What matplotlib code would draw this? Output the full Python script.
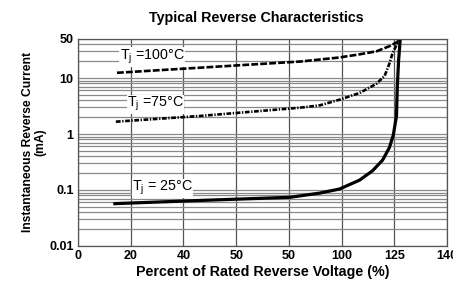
import matplotlib
matplotlib.use("Agg")
import matplotlib.pyplot as plt
from matplotlib.ticker import FixedLocator, NullFormatter

plt.rcParams['font.family'] = ['Liberation Sans', 'DejaVu Sans']

# x is in grid units (gridlines every 20), labelled as printed on the chart
x_grid = [0, 20, 40, 60, 80, 100, 120, 140]
x_labels = ['0', '20', '40', '50', '50', '100', '125', '140']
y_ticks = [0.01, 0.1, 1, 10, 50]
y_labels = ['0.01', '0.1', '1', '10', '50']

# Tj = 100 C
x100 = [14.8, 46.3, 84.2, 91.7, 99.2, 106.8, 113.2, 118.1, 121.1, 121.9]
y100 = [12.4, 15.3, 19.7, 21.4, 23.3, 26.5, 30.0, 37.0, 44.0, 48.0]
# Tj = 75 C
x75 = [14.4, 46.3, 84.2, 91.7, 99.2, 106.8, 113.2, 116.3, 118.1, 119.3, 120.8, 121.9]
y75 = [1.66, 2.1, 2.95, 3.25, 4.1, 5.4, 7.9, 10.9, 18.0, 27.7, 38.8, 48.0]
# Tj = 25 C
x25 = [14.0, 46.3, 80.4, 91.7, 99.2, 106.8, 111.7, 115.5, 118.1, 119.6, 120.8, 121.1, 121.6, 122.2]
y25 = [0.057, 0.065, 0.074, 0.088, 0.104, 0.15, 0.22, 0.34, 0.57, 0.96, 2.1, 6.8, 20.5, 48.0]

fig = plt.figure(figsize=(4.53, 2.86), dpi=100)
ax = fig.add_axes([0.172, 0.140, 0.815, 0.724])

ax.plot(x100, y100, color='black', lw=1.9, ls=(0, (2.6, 0.8)))
ax.plot(x75, y75, color='black', lw=1.9, ls=(0, (1.8, 0.6, 0.5, 0.6)))
ax.plot(x25, y25, color='black', lw=2.3, ls='-')

ax.set_yscale('log')
ax.set_xlim(0, 140)
ax.set_ylim(0.01, 50)

ax.xaxis.set_major_locator(FixedLocator(x_grid))
ax.set_xticklabels(x_labels)
ax.yaxis.set_major_locator(FixedLocator(y_ticks))
ax.set_yticklabels(y_labels)
ax.yaxis.set_minor_formatter(NullFormatter())

ax.grid(True, axis='x', color='#555555', lw=0.9)
ax.grid(True, axis='y', which='both', color='#8a8a8a', lw=0.9)
ax.set_axisbelow(True)
ax.tick_params(length=0, labelsize=9, pad=3)
ax.tick_params(which='minor', length=0)
for lab in ax.get_xticklabels() + ax.get_yticklabels():
    lab.set_fontweight('bold')
for s in ax.spines.values():
    s.set_color('#555555')
    s.set_linewidth(0.9)

box = dict(facecolor='white', edgecolor='none', pad=0.3)
ax.text(15.9, 23.8, r'$\mathregular{T_j}$ =100°C', fontsize=10.3, va='center', bbox=box)
ax.text(18.6, 3.4, r'$\mathregular{T_j}$ =75°C', fontsize=10.3, va='center', bbox=box)
ax.text(20.5, 0.108, r'$\mathregular{T_j}$ = 25°C', fontsize=10.3, va='center', bbox=box)

fig.text(0.565, 0.937, 'Typical Reverse Characteristics', ha='center', va='center',
         fontsize=10.3, fontweight='bold')
ax.set_xlabel('Percent of Rated Reverse Voltage (%)', fontsize=10.3, fontweight='bold', labelpad=2)
ax.set_ylabel('Instantaneous Reverse Current\n(mA)', fontsize=8.7, fontweight='bold',
              labelpad=2, linespacing=1.05)

fig.savefig('out.png', dpi=100)
